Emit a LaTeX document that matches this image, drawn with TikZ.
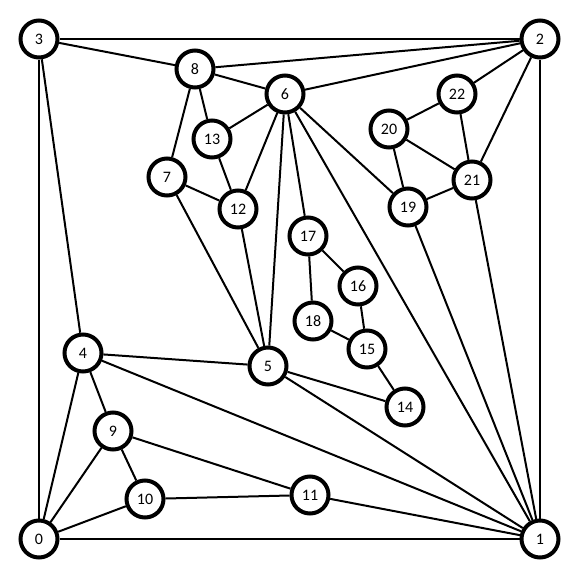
\documentclass[tikz,border=0pt]{standalone}
\usepackage{fontspec}
\setmainfont{Carlito}
\usetikzlibrary{backgrounds}
\begin{document}
\begin{tikzpicture}[x=1pt,y=-1pt,
  vtx/.style={circle,draw=black,fill=white,line width=4pt,minimum size=37pt,inner sep=0pt,font=\fontsize{16}{16}\selectfont},
  edge/.style={line width=2pt}]
\useasboundingbox (0,0) rectangle (579,579);
\node[vtx] (0) at (39,539) {0};
\node[vtx] (1) at (540,539) {1};
\node[vtx] (2) at (540,39) {2};
\node[vtx] (3) at (39,39) {3};
\node[vtx] (4) at (83,353) {4};
\node[vtx] (5) at (268,366) {5};
\node[vtx] (6) at (285,94) {6};
\node[vtx] (7) at (167,177) {7};
\node[vtx] (8) at (195,69) {8};
\node[vtx] (9) at (113,431) {9};
\node[vtx] (10) at (145,499) {10};
\node[vtx] (11) at (310,495) {11};
\node[vtx] (12) at (238,209) {12};
\node[vtx] (13) at (212,139) {13};
\node[vtx] (14) at (405,407) {14};
\node[vtx] (15) at (367,349) {15};
\node[vtx] (16) at (358,286) {16};
\node[vtx] (17) at (308,236) {17};
\node[vtx] (18) at (313,321) {18};
\node[vtx] (19) at (408,207) {19};
\node[vtx] (20) at (389,129) {20};
\node[vtx] (21) at (472,180) {21};
\node[vtx] (22) at (457,94) {22};
\begin{scope}[on background layer]
\foreach \a/\b in {0/1,0/3,1/2,2/3,3/8,3/4,0/4,0/9,0/10,9/10,4/9,9/11,10/11,11/1,4/1,4/5,5/14,5/1,6/1,19/1,21/1,2/21,2/22,2/6,2/8,6/8,8/13,8/7,7/12,7/5,13/6,13/12,12/6,12/5,6/5,6/17,6/19,17/16,17/18,18/15,16/15,15/14,20/22,20/21,20/19,22/21,21/19}
  \draw[edge] (\a) -- (\b);
\end{scope}
\end{tikzpicture}
\end{document}
